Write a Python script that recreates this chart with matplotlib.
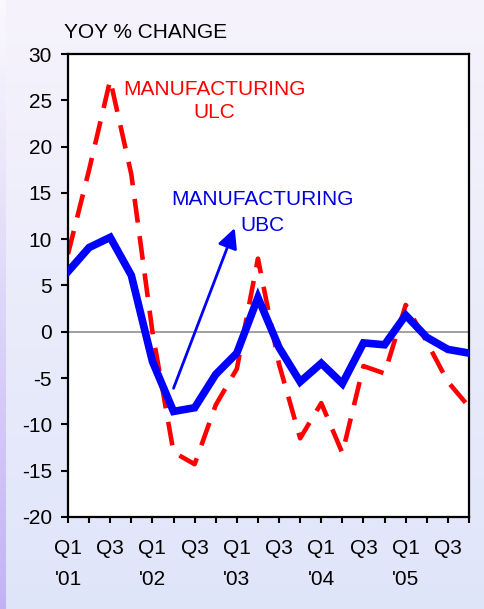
import numpy as np
import matplotlib
matplotlib.use("Agg")
import matplotlib.pyplot as plt

# quarterly yoy % change, Q1 '01 .. Q4 '05
years = ["'01", "'02", "'03", "'04", "'05"]
ubc = [6.5, 9.1, 10.2, 6.1, -3.2, -8.6, -8.2, -4.6, -2.3, 3.7,
       -1.7, -5.4, -3.4, -5.6, -1.2, -1.4, 1.8, -0.6, -1.9, -2.3]
ulc = [8.4, 17.5, 27.2, 17.0, 0.0, -13.0, -14.3, -7.9, -4.0, 7.9,
       -3.5, -11.5, -7.7, -13.1, -3.7, -4.5, 2.9, -1.1, -5.4, -8.1]
yticks = list(range(-20, 31, 5))

xlabels = []
for i in range(len(ubc)):
    if i % 4 == 0:
        xlabels.append("Q1\n" + years[i // 4])
    elif i % 4 == 2:
        xlabels.append("Q3")
    else:
        xlabels.append("")

plt.rcParams['font.family'] = ['Liberation Sans', 'DejaVu Sans']
plt.rcParams['font.size'] = 15
plt.rcParams['axes.unicode_minus'] = False

W, H = 484, 609
fig = plt.figure(figsize=(W / 100, H / 100), dpi=100)

# background gradient + purple strip on the left
top = np.array([0.965, 0.953, 0.988])
bot = np.array([0.875, 0.898, 0.980])
t = np.linspace(0, 1, H)[:, None, None]
bg = top * (1 - t) + bot * t
bg = np.repeat(bg, W, axis=1)
strip_top = np.array([0.98, 0.975, 0.995])
strip_bot = np.array([0.76, 0.70, 0.96])
strip = strip_top * (1 - t[:, 0]) + strip_bot * t[:, 0]
bg[:, :6, :] = strip[:, None, :]
bgax = fig.add_axes([0, 0, 1, 1], zorder=-10)
bgax.imshow(bg, aspect='auto', extent=(0, 1, 0, 1))
bgax.axis('off')

ax = fig.add_axes([68 / W, 1 - 517 / H, 401 / W, 463 / H])
ax.set_facecolor('white')
x = np.arange(len(ubc))

ax.axhline(0, color='#999999', lw=1.3, zorder=1)
ax.plot(x, ulc, color='#ff0000', lw=3.3, dashes=(5.2, 3.0), zorder=2)
ax.plot(x, ubc, color='#0000ff', lw=5.5, solid_joinstyle='miter', zorder=3)

ax.set_xlim(0, len(ubc) - 1)
ax.set_ylim(-20, 30)
ax.set_yticks(yticks)
ax.set_xticks(x)
ax.set_xticklabels(xlabels)
for lab in ax.get_xticklabels():
    lab.set_linespacing(1.8)

for s in ax.spines.values():
    s.set_linewidth(1.6)
    s.set_color('black')
ax.tick_params(axis='y', direction='out', length=5, width=1.5, pad=6.5)
ax.tick_params(axis='x', direction='out', length=4.5, width=1.5, pad=11)

ax.text(6.94, 24.9, "MANUFACTURING\nULC", color='#ff0000', ha='center',
        va='center', multialignment='center', linespacing=1.25)
ax.text(9.19, 12.85, "MANUFACTURING\nUBC", color='#0000dd', ha='center',
        va='center', multialignment='center', linespacing=1.45)
ax.annotate('', xy=(7.9, 11.2), xytext=(5.0, -6.1),
            arrowprops=dict(arrowstyle='-|>,head_length=0.6,head_width=0.3',
                            color='#0000ff', lw=2, mutation_scale=20,
                            shrinkA=0, shrinkB=0))

fig.text(64 / W, 1 - 33 / H, "YOY % CHANGE", ha='left', va='center')

fig.savefig('out.png', dpi=100)
